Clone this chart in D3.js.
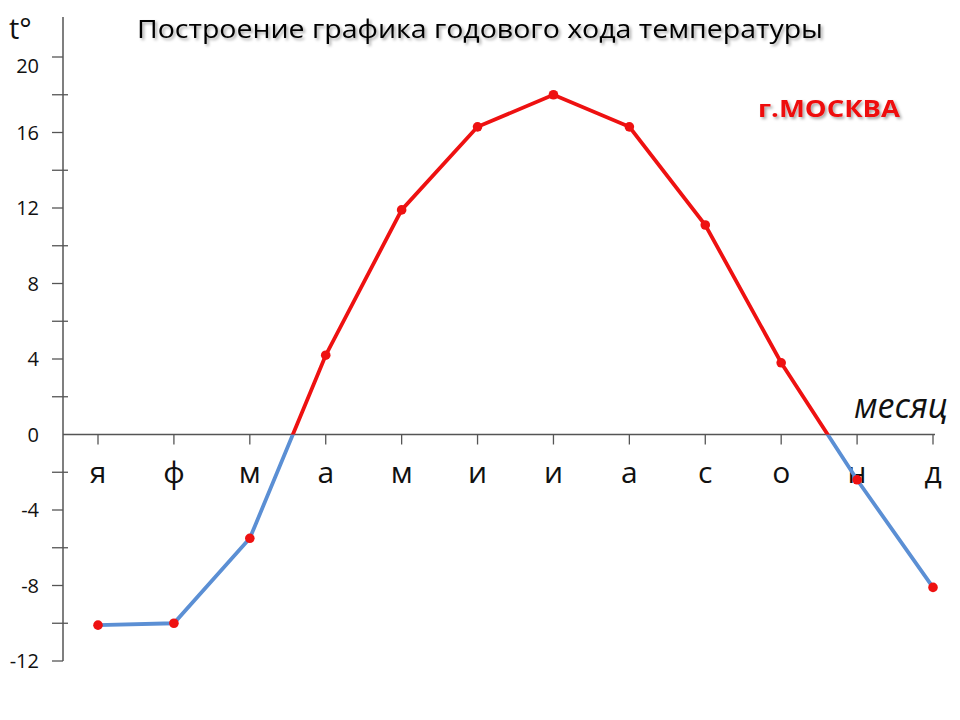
<!DOCTYPE html>
<html>
<head>
<meta charset="utf-8">
<script src="https://cdn.jsdelivr.net/npm/d3@7"></script>
<style>
  body { margin: 0; background: #fff; }
  text { font-family: "Open Sans", "DejaVu Sans", sans-serif; }
</style>
</head>
<body>
<svg id="chart"></svg>
<script>
let width = 960,
  height = 720;

// Data
const months = ["я", "ф", "м", "а", "м", "и", "и", "а", "с", "о", "н", "д"];
const temps = [-10.1, -10.0, -5.5, 4.2, 11.9, 16.3, 18.0, 16.3, 11.1, 3.8, -2.4, -8.1];
const labelTicks = [20, 16, 12, 8, 4, 0, -4, -8, -12];
const allTicks = d3.range(-12, 21, 2);

let svg = d3.select("#chart").attr("width", width).attr("height", height);

// Scales
var x = d3.scalePoint().domain(d3.range(12)).range([98, 933]);
var y = d3.scaleLinear().domain([-12, 20]).range([661, 57]);

// Shadow for the headings
var defs = svg.append("defs");
defs
  .append("filter")
  .attr("id", "shadow")
  .attr("x", "-10%")
  .attr("y", "-30%")
  .attr("width", "120%")
  .attr("height", "160%")
  .append("feDropShadow")
  .attr("dx", 2)
  .attr("dy", 2)
  .attr("stdDeviation", 1.5)
  .attr("flood-color", "#000")
  .attr("flood-opacity", 0.35);

// Clip areas above / below zero
defs
  .append("clipPath")
  .attr("id", "above")
  .append("rect")
  .attr("x", 0)
  .attr("y", 0)
  .attr("width", width)
  .attr("height", y(0));
defs
  .append("clipPath")
  .attr("id", "below")
  .append("rect")
  .attr("x", 0)
  .attr("y", y(0))
  .attr("width", width)
  .attr("height", height - y(0));

// Title
svg
  .append("text")
  .attr("x", 137)
  .attr("y", 38)
  .attr("textLength", 686)
  .attr("lengthAdjust", "spacingAndGlyphs")
  .style("font-size", "25px")
  .attr("fill", "#000")
  .attr("filter", "url(#shadow)")
  .text("Построение графика годового хода температуры");

// City label
svg
  .append("text")
  .attr("x", 758)
  .attr("y", 117)
  .attr("textLength", 142)
  .attr("lengthAdjust", "spacingAndGlyphs")
  .style("font-size", "24px")
  .style("font-weight", "bold")
  .attr("fill", "#ee1111")
  .attr("filter", "url(#shadow)")
  .text("г.МОСКВА");

// Y axis
var axisColor = "#555";
svg
  .append("line")
  .attr("x1", 63)
  .attr("x2", 63)
  .attr("y1", 17)
  .attr("y2", y(-12))
  .attr("stroke", axisColor)
  .attr("stroke-width", 1.5);

svg
  .append("g")
  .selectAll("line")
  .data(allTicks.filter((d) => d !== 0))
  .enter()
  .append("line")
  .attr("x1", 52)
  .attr("x2", (d) => (d % 4 === 0 ? 63 : 68))
  .attr("y1", (d) => y(d))
  .attr("y2", (d) => y(d))
  .attr("stroke", axisColor)
  .attr("stroke-width", 1.3);

svg
  .append("g")
  .selectAll("text")
  .data(labelTicks)
  .enter()
  .append("text")
  .attr("x", 39)
  .attr("y", (d) => (d === 20 ? y(d) + 9 : y(d)))
  .attr("dy", "0.35em")
  .attr("text-anchor", "end")
  .style("font-size", "20px")
  .attr("fill", "#111")
  .text((d) => d);

svg
  .append("text")
  .attr("x", 9)
  .attr("y", 39)
  .style("font-size", "29px")
  .attr("fill", "#111")
  .text("t°");

// X axis
svg
  .append("line")
  .attr("x1", 63)
  .attr("x2", 935)
  .attr("y1", y(0))
  .attr("y2", y(0))
  .attr("stroke", axisColor)
  .attr("stroke-width", 1.5);

svg
  .append("g")
  .selectAll("line")
  .data(d3.range(12))
  .enter()
  .append("line")
  .attr("x1", (d) => x(d))
  .attr("x2", (d) => x(d))
  .attr("y1", y(0))
  .attr("y2", y(0) + 10)
  .attr("stroke", axisColor)
  .attr("stroke-width", 1.3);

svg
  .append("g")
  .selectAll("text")
  .data(months)
  .enter()
  .append("text")
  .attr("x", (d, i) => x(i))
  .attr("y", 483)
  .attr("text-anchor", "middle")
  .style("font-size", "30px")
  .attr("fill", "#111")
  .text((d) => d);

svg
  .append("text")
  .attr("x", 948)
  .attr("y", 418)
  .attr("text-anchor", "end")
  .style("font-size", "34px")
  .style("font-style", "italic")
  .attr("fill", "#111")
  .text("месяц");

// Temperature line: red above zero, blue below
var line = d3
  .line()
  .x((d, i) => x(i))
  .y((d) => y(d));

svg
  .append("path")
  .datum(temps)
  .attr("d", line)
  .attr("fill", "none")
  .attr("stroke", "#5b8fd4")
  .attr("stroke-width", 3.8)
  .attr("clip-path", "url(#below)");

svg
  .append("path")
  .datum(temps)
  .attr("d", line)
  .attr("fill", "none")
  .attr("stroke", "#ee1111")
  .attr("stroke-width", 3.8)
  .attr("clip-path", "url(#above)");

// Points
svg
  .append("g")
  .selectAll("circle")
  .data(temps)
  .enter()
  .append("circle")
  .attr("cx", (d, i) => x(i))
  .attr("cy", (d) => y(d))
  .attr("r", 4.8)
  .attr("fill", "#ee1111");
</script>
</body>
</html>
